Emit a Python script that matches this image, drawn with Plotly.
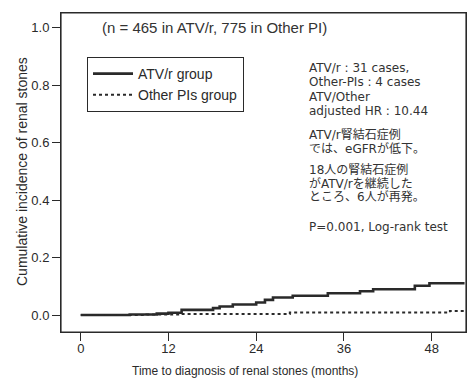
import plotly.graph_objects as go

# ---- data ----
atv_months = [0, 6.7, 10.4, 12.0, 13.8, 18.1, 19.0, 20.8, 24.0, 25.2, 26.3, 29.0, 33.8, 38.2, 40.0, 45.7, 47.7, 52.5]
atv_incidence = [0, 0.002, 0.005, 0.008, 0.018, 0.024, 0.030, 0.037, 0.044, 0.053, 0.061, 0.067, 0.076, 0.083, 0.090, 0.102, 0.111, 0.111]

other_months = [0, 9.0, 13.8, 28.6, 50.5, 52.8]
other_incidence = [0, 0.002, 0.004, 0.009, 0.014, 0.014]

series_names = ["ATV/r group", "Other PIs group"]
x_ticks = [0, 12, 24, 36, 48]
y_ticks = [0.0, 0.2, 0.4, 0.6, 0.8, 1.0]

header_text = "(n = 465 in ATV/r, 775 in Other PI)"
side_lines = [
    "ATV/r : 31 cases,",
    "Other-PIs : 4 cases",
    "ATV/Other",
    "adjusted HR : 10.44",
    "ATV/r腎結石症例",
    "では、eGFRが低下。",
    "18人の腎結石症例",
    "がATV/rを継続した",
    "ところ、6人が再発。",
    "P=0.001, Log-rank test",
]
side_line_y_px = [68.5, 82.5, 96.5, 110.5, 135, 148, 170, 183, 196, 227]

x_title = "Time to diagnosis of renal stones (months)"
y_title = "Cumulative incidence of renal stones"

# ---- layout geometry ----
W, H = 475, 378
L, R, T, B = 61, 9, 13, 46
PW, PH = W - L - R, H - T - B

def px_x(px):
    return (px - L) / PW

def px_y(py):
    return (H - B - py) / PH

INK = "#2a2a2a"
FONT = "Liberation Sans, Arial, Noto Sans CJK JP, sans-serif"
SIDE_FONT = "DejaVu Sans, Noto Sans CJK JP, sans-serif"

fig = go.Figure()
fig.add_trace(go.Scatter(
    x=atv_months, y=atv_incidence, mode="lines", line_shape="hv",
    name=series_names[0], line=dict(color=INK, width=2.6, dash="solid"),
))
fig.add_trace(go.Scatter(
    x=other_months, y=other_incidence, mode="lines", line_shape="hv",
    name=series_names[1], line=dict(color=INK, width=2, dash="dot"),
))

annotations = [
    dict(text=header_text, x=px_x(100), y=px_y(27), xref="paper", yref="paper",
         xanchor="left", yanchor="middle", showarrow=False,
         font=dict(size=15, color="#333", family=FONT)),
    dict(text=x_title, x=px_x(245), y=px_y(371), xref="paper", yref="paper",
         xanchor="center", yanchor="middle", showarrow=False,
         font=dict(size=12, color=INK, family=FONT)),
    dict(text=y_title, x=px_x(22), y=px_y(172), xref="paper", yref="paper",
         xanchor="center", yanchor="middle", showarrow=False, textangle=-90,
         font=dict(size=14, color=INK, family=FONT)),
]
for txt, ypx in zip(side_lines, side_line_y_px):
    annotations.append(dict(
        text=txt, x=px_x(307), y=px_y(ypx), xref="paper", yref="paper",
        xanchor="left", yanchor="middle", showarrow=False,
        font=dict(size=12, color="#333", family=SIDE_FONT)))

fig.update_layout(
    width=W, height=H,
    margin=dict(l=L, r=R, t=T, b=B, pad=0),
    paper_bgcolor="white", plot_bgcolor="white",
    font=dict(family=FONT, color=INK, size=13),
    showlegend=True,
    legend=dict(
        x=px_x(87), y=px_y(57), xanchor="left", yanchor="top",
        bgcolor="white", bordercolor=INK, borderwidth=1,
        font=dict(size=14, color=INK, family=FONT),
        itemwidth=40, tracegroupgap=0,
    ),
    annotations=annotations,
    shapes=[dict(type="rect", xref="paper", yref="paper", x0=0, x1=1, y0=0, y1=1,
                 line=dict(color=INK, width=1.2), layer="above")],
    xaxis=dict(
        range=[-2.7, 52.7], tickvals=x_ticks, ticks="outside", ticklen=8,
        tickcolor=INK, tickwidth=1, showline=True, linecolor=INK, linewidth=1,
        mirror=True, showgrid=False, zeroline=False, ticklabelstandoff=-4,
        tickfont=dict(size=13, color=INK),
    ),
    yaxis=dict(
        range=[-0.059, 1.052], tickvals=y_ticks, tickformat=".1f",
        ticks="outside", ticklen=8, tickcolor=INK, tickwidth=1,
        showline=True, linecolor=INK, linewidth=1, mirror=True,
        showgrid=False, zeroline=False, tickfont=dict(size=13, color=INK),
    ),
)

fig.write_html("out.html", config={"displayModeBar": False},
               post_script="document.body.style.margin='0';document.body.style.overflow='hidden';")
